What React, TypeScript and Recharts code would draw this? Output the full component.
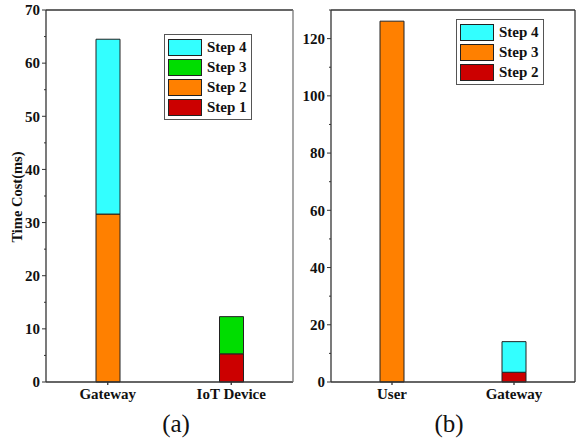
import React from 'react';
import { BarChart, Bar, XAxis, YAxis, Legend } from 'recharts';

// Panel (a)
const catsA = ['Gateway', 'IoT Device'];
const aStep1 = [0, 5.3];
const aStep2 = [31.6, 0];
const aStep3 = [0, 7.0];
const aStep4 = [32.9, 0];
const ticksA = [0, 5, 10, 15, 20, 25, 30, 35, 40, 45, 50, 55, 60, 65, 70];

// Panel (b)
const catsB = ['User', 'Gateway'];
const bStep2 = [0, 3.4];
const bStep3 = [126.1, 0];
const bStep4 = [0, 10.7];
const ticksB = [0, 10, 20, 30, 40, 50, 60, 70, 80, 90, 100, 110, 120, 130];
const ticksBRight = [0, 20, 40, 60, 80, 100, 120];

const dataA = catsA.map((name, i) => ({
  name,
  s1: aStep1[i],
  s2: aStep2[i],
  s3: aStep3[i],
  s4: aStep4[i],
}));

const dataB = catsB.map((name, i) => ({
  name,
  s2: bStep2[i],
  s3: bStep3[i],
  s4: bStep4[i],
}));

const FONT = "'Liberation Serif'";
const AXIS = '#333';

const LeftTick = (props: any) => {
  const { x, y, payload, every } = props;
  const major = payload.value % every === 0;
  return (
    <g>
      <line x1={x} x2={x - (major ? 4 : 2)} y1={y} y2={y} stroke={AXIS} strokeWidth={1} />
      {major && (
        <text
          x={x - 6}
          y={y}
          dy="0.35em"
          textAnchor="end"
          style={{ fontFamily: FONT, fontWeight: 'bold', fontSize: 15 }}
          fill="#111"
        >
          {payload.value}
        </text>
      )}
    </g>
  );
};

const LegendBox = (props: any) => {
  const items = [...(props.payload || [])].reverse();
  return (
    <div
      style={{
        border: '1px solid #555',
        padding: '2px 4px 2px 3px',
        background: '#fff',
        fontFamily: FONT,
        fontWeight: 'bold',
        fontSize: 15,
        color: '#111',
      }}
    >
      {items.map((it: any) => (
        <div key={it.value} style={{ display: 'flex', alignItems: 'center', height: 20 }}>
          <span
            style={{
              display: 'inline-block',
              width: 32,
              height: 15,
              background: it.color,
              border: '1px solid #222',
              marginRight: 5,
            }}
          />
          <span>{it.value}</span>
        </div>
      ))}
    </div>
  );
};

const xTick = { fontFamily: FONT, fontWeight: 'bold', fontSize: 15, fill: '#111' };

const App = () => {
  return (
    <div style={{ position: 'absolute', left: 0, top: 0, width: 576, height: 441, background: '#fff', fontFamily: FONT }}>
      <div style={{ position: 'absolute', left: 0, top: 0 }}>
        <BarChart width={296} height={441} data={dataA} margin={{ top: 10, right: 3, bottom: 29, left: 0 }}>
          <XAxis
            dataKey="name"
            stroke={AXIS}
            strokeWidth={1.3}
            tickSize={3}
            tickMargin={3}
            height={30}
            tick={xTick}
            interval={0}
          />
          <XAxis xAxisId="top" dataKey="name" orientation="top" mirror tick={false} tickSize={3} stroke={AXIS} strokeWidth={1.3} />
          <YAxis
            domain={[0, 70]}
            ticks={ticksA}
            width={46}
            stroke={AXIS}
            strokeWidth={1.3}
            tickLine={false}
            tickSize={0}
            tickMargin={0}
            interval={0}
            tick={<LeftTick every={10} />}
            label={{
              content: () => (
                <text
                  x={17}
                  y={197}
                  transform="rotate(-90 17 197)"
                  textAnchor="middle"
                  dominantBaseline="central"
                  style={{ fontFamily: FONT, fontWeight: 'bold', fontSize: 14.5 }}
                  fill="#111"
                >
                  Time Cost(ms)
                </text>
              ),
            }}
          />
          <YAxis
            yAxisId="right"
            orientation="right"
            mirror
            domain={[0, 70]}
            ticks={ticksA}
            interval={0}
            tick={false}
            tickSize={3}
            stroke="#777"
            strokeWidth={1.3}
          />
          <Legend
            layout="vertical"
            align="center"
            verticalAlign="middle"
            content={<LegendBox />}
            wrapperStyle={{ left: 164, top: 34, width: 'auto' }}
          />
          <Bar dataKey="s1" name="Step 1" stackId="a" fill="#CC0000" stroke="#222" strokeWidth={1} barSize={24} isAnimationActive={false} />
          <Bar dataKey="s2" name="Step 2" stackId="a" fill="#FF8000" stroke="#222" strokeWidth={1} barSize={24} isAnimationActive={false} />
          <Bar dataKey="s3" name="Step 3" stackId="a" fill="#00DD00" stroke="#222" strokeWidth={1} barSize={24} isAnimationActive={false} />
          <Bar dataKey="s4" name="Step 4" stackId="a" fill="#33FFFF" stroke="#222" strokeWidth={1} barSize={24} isAnimationActive={false} />
        </BarChart>
      </div>
      <div style={{ position: 'absolute', left: 296, top: 0 }}>
        <BarChart width={280} height={441} data={dataB} margin={{ top: 10, right: 1, bottom: 29, left: 0 }}>
          <XAxis
            dataKey="name"
            stroke={AXIS}
            strokeWidth={1.3}
            tickSize={3}
            tickMargin={3}
            height={30}
            tick={xTick}
            interval={0}
          />
          <XAxis xAxisId="top" dataKey="name" orientation="top" mirror tick={false} tickSize={3} stroke={AXIS} strokeWidth={1.3} />
          <YAxis
            domain={[0, 130]}
            ticks={ticksB}
            width={35}
            stroke={AXIS}
            strokeWidth={1.3}
            tickLine={false}
            tickSize={0}
            tickMargin={0}
            interval={0}
            tick={<LeftTick every={20} />}
          />
          <YAxis
            yAxisId="right"
            orientation="right"
            mirror
            domain={[0, 130]}
            ticks={ticksBRight}
            interval={0}
            tick={false}
            tickSize={3}
            stroke={AXIS}
            strokeWidth={1.3}
          />
          <Legend
            layout="vertical"
            align="center"
            verticalAlign="middle"
            content={<LegendBox />}
            wrapperStyle={{ left: 160, top: 19, width: 'auto' }}
          />
          <Bar dataKey="s2" name="Step 2" stackId="b" fill="#CC0000" stroke="#222" strokeWidth={1} barSize={24} isAnimationActive={false} />
          <Bar dataKey="s3" name="Step 3" stackId="b" fill="#FF8000" stroke="#222" strokeWidth={1} barSize={24} isAnimationActive={false} />
          <Bar dataKey="s4" name="Step 4" stackId="b" fill="#33FFFF" stroke="#222" strokeWidth={1} barSize={24} isAnimationActive={false} />
        </BarChart>
      </div>
      <div style={{ position: 'absolute', left: 146, top: 410, width: 60, textAlign: 'center', fontFamily: FONT, fontSize: 25, lineHeight: '28px', color: '#111' }}>
        (a)
      </div>
      <div style={{ position: 'absolute', left: 419, top: 410, width: 60, textAlign: 'center', fontFamily: FONT, fontSize: 25, lineHeight: '28px', color: '#111' }}>
        (b)
      </div>
    </div>
  );
};

export default App;
